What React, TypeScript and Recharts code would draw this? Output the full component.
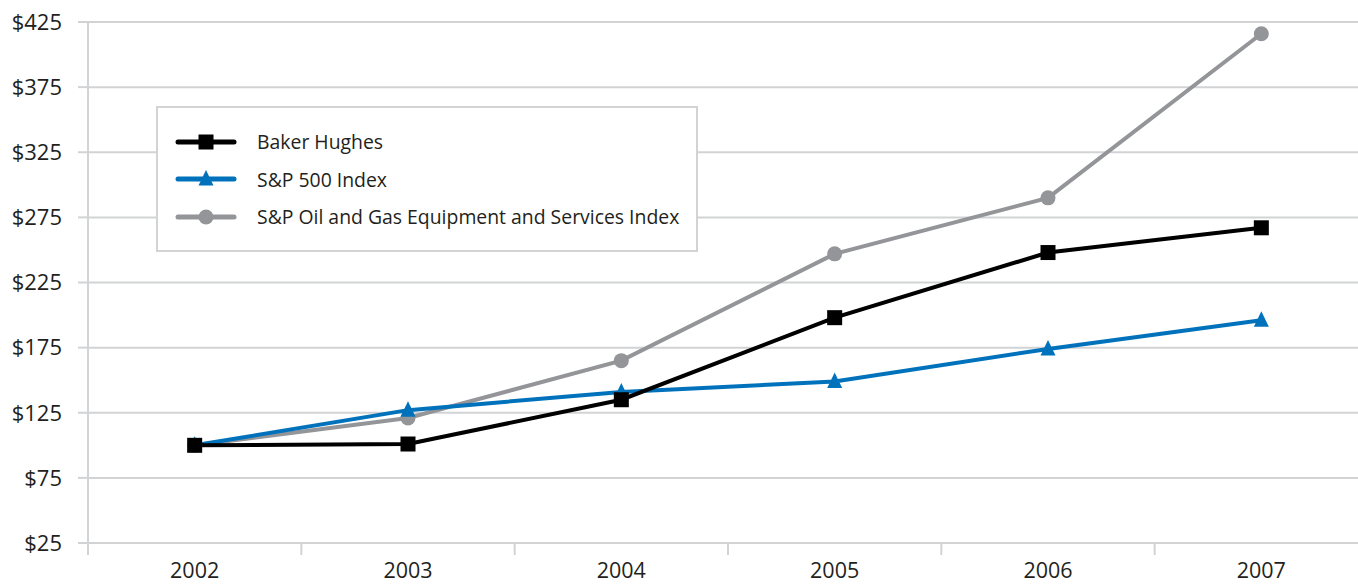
import React from "react";
import { LineChart, Line, XAxis, YAxis, CartesianGrid, Legend } from "recharts";

// values
const years = ["2002", "2003", "2004", "2005", "2006", "2007"];
const bakerHughes = [100, 101, 135, 198, 248, 267];
const sp500 = [100, 127, 141, 149, 174, 196];
const oilGasServices = [100, 121, 165, 247, 290, 416];
const yTicks = [25, 75, 125, 175, 225, 275, 325, 375, 425];

const series = [
  { key: "bh", name: "Baker Hughes", color: "#000000", marker: "square" },
  { key: "sp", name: "S&P 500 Index", color: "#0072bc", marker: "triangle" },
  { key: "og", name: "S&P Oil and Gas Equipment and Services Index", color: "#939598", marker: "circle" },
];

const data = years.map((year, i) => ({
  year,
  bh: bakerHughes[i],
  sp: sp500[i],
  og: oilGasServices[i],
}));

const CHART_W = 1368;
const CHART_H = 584;
const Y_W = 88;
const X_H = 41;
const BAND = (CHART_W - Y_W) / years.length;
const GRID = "#d1d3d4";
const TEXT = "#231f20";
const FONT = "'Open Sans', sans-serif";

const Marker = ({ kind, cx, cy, color }: any) => {
  if (kind === "square") {
    return <rect x={cx - 7.5} y={cy - 7.5} width={15} height={15} fill={color} />;
  }
  if (kind === "triangle") {
    return (
      <polygon
        points={`${cx},${cy - 9} ${cx - 7.5},${cy + 6.5} ${cx + 7.5},${cy + 6.5}`}
        fill={color}
      />
    );
  }
  return <circle cx={cx} cy={cy} r={7.5} fill={color} />;
};

// label plus a tick mark on the left edge of each category band
const XTick = ({ x, y, payload }: any) => (
  <g>
    <line x1={x - BAND / 2} x2={x - BAND / 2} y1={y} y2={y + 12} stroke={GRID} strokeWidth={2} />
    <text
      x={x}
      y={y + 34.5}
      textAnchor="middle"
      fill={TEXT}
      fontSize={21.5}
      fontFamily={FONT}
    >
      {payload.value}
    </text>
  </g>
);

const LegendBox = () => (
  <div
    style={{
      boxSizing: "border-box",
      width: 542,
      height: 146,
      border: `2px solid ${GRID}`,
      background: "#fff",
      padding: "15px 0 0 17px",
      fontFamily: FONT,
      fontSize: 19.4,
      color: TEXT,
    }}
  >
    {series.map((s) => (
      <div key={s.key} style={{ display: "flex", alignItems: "center", height: 37.6 }}>
        <svg width={62} height={20} style={{ flex: "none" }}>
          <line x1={3} x2={59} y1={10} y2={10} stroke={s.color} strokeWidth={5} strokeLinecap="round" />
          <Marker kind={s.marker} cx={31} cy={10} color={s.color} />
        </svg>
        <span style={{ marginLeft: 20, whiteSpace: "nowrap" }}>{s.name}</span>
      </div>
    ))}
  </div>
);

// draw order: gray under blue under black
const drawOrder = ["og", "sp", "bh"];

export default function App() {
  return (
    <div
      style={{
        position: "absolute",
        left: 0,
        top: 0,
        width: 1358,
        height: 584,
        overflow: "hidden",
        background: "#fff",
      }}
    >
      <LineChart
        width={CHART_W}
        height={CHART_H}
        data={data}
        margin={{ top: 22, right: 0, bottom: 0, left: 0 }}
      >
        <CartesianGrid vertical={false} stroke={GRID} strokeWidth={2} />
        <XAxis
          dataKey="year"
          height={X_H}
          padding={{ left: BAND / 2, right: BAND / 2 }}
          axisLine={{ stroke: GRID, strokeWidth: 2 }}
          tickLine={false}
          tickSize={0}
          tickMargin={0}
          tick={<XTick />}
          interval={0}
        />
        <YAxis
          width={Y_W}
          domain={[25, 425]}
          ticks={yTicks}
          interval={0}
          tickFormatter={(v) => `$${v}`}
          axisLine={{ stroke: GRID, strokeWidth: 2 }}
          tickLine={{ stroke: GRID, strokeWidth: 2 }}
          tickSize={10}
          tickMargin={16}
          tick={{ fill: TEXT, fontSize: 22, fontFamily: FONT }}
        />
        <Legend
          layout="vertical"
          align="center"
          verticalAlign="middle"
          wrapperStyle={{ left: 156, top: 106, width: 542, height: 146 }}
          content={() => <LegendBox />}
        />
        {drawOrder.map((k) => {
          const s = series.find((d) => d.key === k)!;
          return (
            <Line
              key={s.key}
              type="linear"
              dataKey={s.key}
              name={s.name}
              stroke={s.color}
              strokeWidth={4}
              isAnimationActive={false}
              activeDot={false}
              dot={(p: any) => (
                <Marker key={`${s.key}-${p.index}`} kind={s.marker} cx={p.cx} cy={p.cy} color={s.color} />
              )}
            />
          );
        })}
      </LineChart>
    </div>
  );
}
